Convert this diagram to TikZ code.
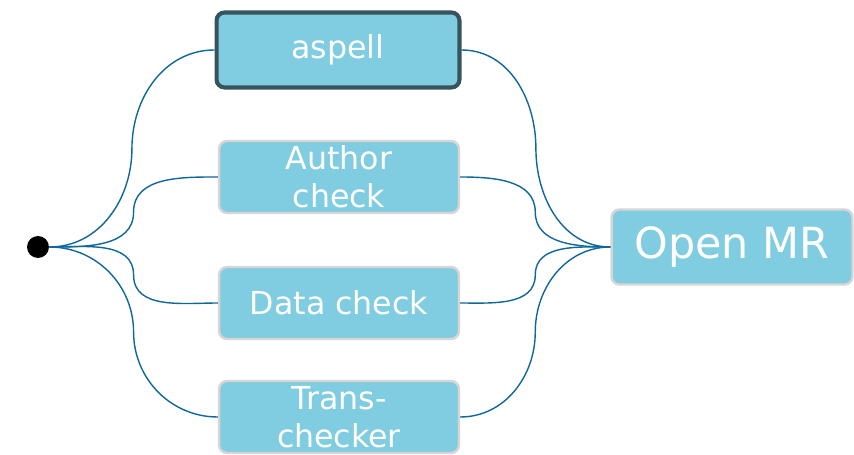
\documentclass[tikz,border=0pt]{standalone}
\usepackage{fontspec}
\setmainfont{DejaVu Sans}
\usetikzlibrary{calc}
\definecolor{boxfill}{HTML}{80CCE0}
\definecolor{linkblue}{HTML}{10679A}
\definecolor{rimdark}{HTML}{36535E}
\tikzset{
  taskbox/.style={rounded corners=0.16cm, fill=boxfill, draw=black!16, line width=1.4pt,
    text=white, minimum width=4.8cm, minimum height=1.44cm, align=center, inner sep=0pt,
    font=\fontsize{18}{21.5}\selectfont},
  link/.style={draw=linkblue, line width=0.8pt},
}
\begin{document}
\begin{tikzpicture}[x=0.02cm,y=0.02cm]
  \useasboundingbox (0,0) rectangle (854,-455);
  \node[circle, fill=black, minimum size=0.44cm, inner sep=0pt] (start) at (38,-247) {};
  \node[taskbox, draw=rimdark, line width=2.3pt, minimum width=4.86cm, minimum height=1.5cm] (aspell) at (338,-50) {aspell};
  \node[taskbox] (author) at (339,-177) {Author\\check};
  \node[taskbox] (data) at (339,-303) {Data check};
  \node[taskbox] (trans) at (339,-417) {Trans-\\checker};
  \node[taskbox, minimum width=4.82cm, minimum height=1.5cm, font=\fontsize{24.4}{29}\selectfont] (mr) at (732,-247) {Open MR};
  % fan out from the dot, fan in to Open MR
  \foreach \b/\u/\d in {aspell/-90/90, author/-90/90, data/90/-90, trans/90/-90} {
    \draw[link] (start.east) to[out=0,in=\u] ($(start.east)!.5!(\b.west)$) to[out=\d,in=180] (\b.west);
    \draw[link] (\b.east) to[out=0,in=\d] ($(\b.east)!.5!(mr.west)$) to[out=\u,in=180] (mr.west);
  }
\end{tikzpicture}
\end{document}
